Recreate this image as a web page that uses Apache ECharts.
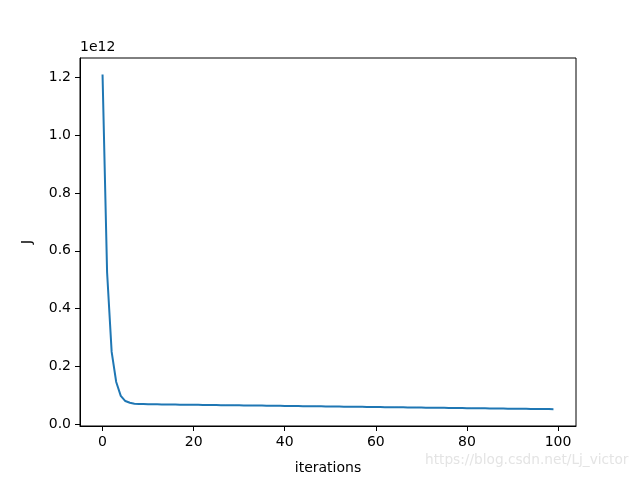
<!DOCTYPE html>
<html>
<head>
<meta charset="utf-8">
<script src="https://cdn.jsdelivr.net/npm/echarts@6/dist/echarts.min.js"></script>
<style>
  html, body { margin: 0; padding: 0; background: #fff; }
  #chart { width: 640px; height: 480px; }
</style>
</head>
<body>
<div id="chart"></div>
<script>
// cost J per iteration, in units of 1e12
const iterations = [];
for (let i = 0; i < 100; i++) iterations.push(i);
const jValues = [
  1.210, 0.525, 0.250, 0.146, 0.098, 0.080, 0.074, 0.071, 0.070, 0.0695,
  0.0690, 0.0688, 0.0686, 0.0684, 0.0682, 0.0680, 0.0678, 0.0676, 0.0675, 0.0673,
  0.0671, 0.0669, 0.0667, 0.0665, 0.0663, 0.0661, 0.0659, 0.0657, 0.0655, 0.0653,
  0.0651, 0.0649, 0.0648, 0.0646, 0.0644, 0.0642, 0.0640, 0.0638, 0.0636, 0.0634,
  0.0632, 0.0630, 0.0628, 0.0626, 0.0624, 0.0622, 0.0621, 0.0619, 0.0617, 0.0615,
  0.0613, 0.0611, 0.0609, 0.0607, 0.0605, 0.0603, 0.0601, 0.0599, 0.0597, 0.0595,
  0.0594, 0.0592, 0.0590, 0.0588, 0.0586, 0.0584, 0.0582, 0.0580, 0.0578, 0.0576,
  0.0574, 0.0572, 0.0570, 0.0568, 0.0567, 0.0565, 0.0563, 0.0561, 0.0559, 0.0557,
  0.0555, 0.0553, 0.0551, 0.0549, 0.0547, 0.0545, 0.0543, 0.0541, 0.0540, 0.0538,
  0.0536, 0.0534, 0.0532, 0.0530, 0.0528, 0.0526, 0.0524, 0.0522, 0.0521, 0.0520
];
const xTicks = [0, 20, 40, 60, 80, 100];
const yTicks = [0, 0.2, 0.4, 0.6, 0.8, 1.0, 1.2];

const font = "DejaVu Sans";
const chart = echarts.init(document.getElementById("chart"));
chart.setOption({
  animation: false,
  backgroundColor: "#fff",
  grid: {
    left: 80, right: 64, top: 58, bottom: 53,
    show: true, borderColor: "#000", borderWidth: 1, backgroundColor: "transparent"
  },
  xAxis: {
    type: "value",
    min: -4.95,
    max: 103.95,
    name: "iterations",
    nameLocation: "middle",
    nameGap: 35,
    nameTextStyle: { color: "#000", fontSize: 14, fontFamily: font },
    axisLine: { show: true, onZero: false, lineStyle: { color: "#000", width: 1 } },
    splitLine: { show: false },
    axisTick: { show: true, length: 5, lineStyle: { color: "#000", width: 1 }, customValues: xTicks },
    axisLabel: { color: "#000", fontSize: 14, fontFamily: font, margin: 9, customValues: xTicks,
      formatter: (v) => String(Math.round(v)) }
  },
  yAxis: {
    type: "value",
    min: -0.0063,
    max: 1.267,
    name: "J",
    nameLocation: "middle",
    nameGap: 46,
    nameTextStyle: { color: "#000", fontSize: 14, fontFamily: font },
    axisLine: { show: true, onZero: false, lineStyle: { color: "#000", width: 1 } },
    splitLine: { show: false },
    axisTick: { show: true, length: 5, lineStyle: { color: "#000", width: 1 }, customValues: yTicks },
    axisLabel: { color: "#000", fontSize: 14, fontFamily: font, margin: 9, customValues: yTicks,
      formatter: (v) => v.toFixed(1) }
  },
  graphic: [
    { type: "text", left: 80, top: 40, style: { text: "1e12", fill: "#000", font: "14px DejaVu Sans" } },
    { type: "text", left: 425, top: 453, style: { text: "https://blog.csdn.net/Lj_victor", fill: "#e4e4e4",
      font: "13.7px DejaVu Sans" } }
  ],
  series: [
    {
      type: "line",
      data: iterations.map((x, i) => [x, jValues[i]]),
      showSymbol: false,
      lineStyle: { color: "#1f77b4", width: 2 },
      itemStyle: { color: "#1f77b4" }
    }
  ]
});
</script>
</body>
</html>
